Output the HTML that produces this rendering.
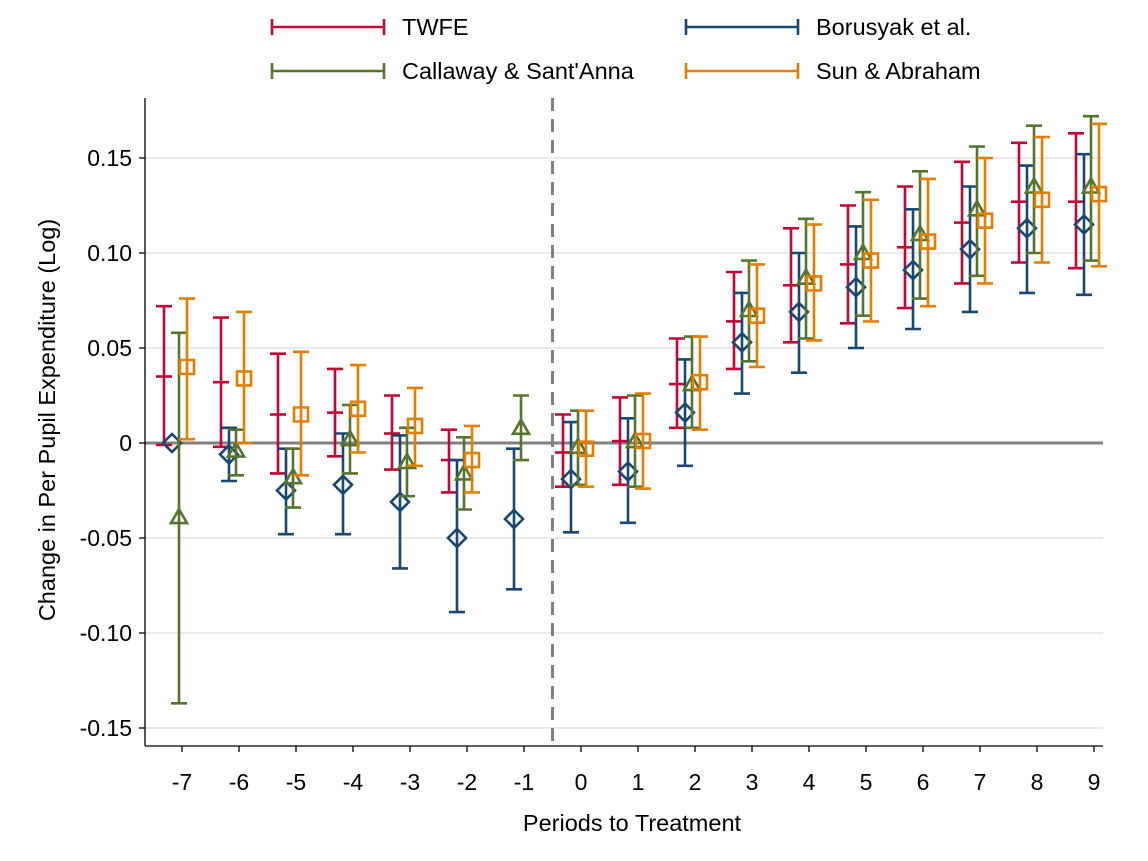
<!DOCTYPE html>
<html><head><meta charset="utf-8"><style>
html,body{margin:0;padding:0;background:#fff;}
svg{display:block;font-family:"Liberation Sans",Arial,sans-serif;}
</style></head><body>
<svg id="chart" width="1148" height="861" viewBox="0 0 1148 861" xmlns="http://www.w3.org/2000/svg">
<g id="grid"></g>
<g id="axes"></g>
<g id="marks"></g>
<g id="legend"></g>
<text x="0" y="0" transform="translate(55,420) rotate(-90)" text-anchor="middle" font-size="23.5" fill="#000">Change in Per Pupil Expenditure (Log)</text>
<text x="632" y="831" text-anchor="middle" font-size="23.5" fill="#000">Periods to Treatment</text>
</svg>
<script>
const periods = [-7,-6,-5,-4,-3,-2,-1,0,1,2,3,4,5,6,7,8,9];
const yTicks = [0.15,0.10,0.05,0,-0.05,-0.10,-0.15];
const yTickLabels = ["0.15","0.10","0.05","0","-0.05","-0.10","-0.15"];
// null = not estimated
const twfeEst = [0.035,0.032,0.015,0.016,0.005,-0.009,null,-0.005,0.001,0.031,0.064,0.083,0.094,0.103,0.116,0.127,0.127];
const twfeLo  = [-0.001,-0.002,-0.016,-0.007,-0.014,-0.026,null,-0.023,-0.022,0.008,0.039,0.053,0.063,0.071,0.084,0.095,0.092];
const twfeHi  = [0.072,0.066,0.047,0.039,0.025,0.007,null,0.015,0.024,0.055,0.090,0.113,0.125,0.135,0.148,0.158,0.163];
const borEst = [0.000,-0.006,-0.025,-0.022,-0.031,-0.050,-0.040,-0.019,-0.015,0.016,0.053,0.069,0.082,0.091,0.102,0.113,0.115];
const borLo  = [0.000,-0.020,-0.048,-0.048,-0.066,-0.089,-0.077,-0.047,-0.042,-0.012,0.026,0.037,0.050,0.060,0.069,0.079,0.078];
const borHi  = [0.000,0.008,-0.003,0.005,0.004,-0.009,-0.003,0.011,0.013,0.044,0.079,0.100,0.114,0.123,0.135,0.146,0.152];
const csEst = [-0.039,-0.004,-0.018,0.002,-0.010,-0.016,0.008,-0.002,0.001,0.031,0.070,0.087,0.100,0.110,0.123,0.135,0.135];
const csLo  = [-0.137,-0.017,-0.034,-0.016,-0.028,-0.035,-0.009,-0.022,-0.023,0.008,0.043,0.055,0.067,0.076,0.088,0.100,0.096];
const csHi  = [0.058,0.007,-0.003,0.020,0.008,0.003,0.025,0.017,0.025,0.056,0.096,0.118,0.132,0.143,0.156,0.167,0.172];
const saEst = [0.040,0.034,0.015,0.018,0.009,-0.009,null,-0.003,0.001,0.032,0.067,0.084,0.096,0.106,0.117,0.128,0.131];
const saLo  = [0.002,0.000,-0.017,-0.005,-0.012,-0.026,null,-0.023,-0.024,0.007,0.040,0.054,0.064,0.072,0.084,0.095,0.093];
const saHi  = [0.076,0.069,0.048,0.041,0.029,0.009,null,0.017,0.026,0.056,0.094,0.115,0.128,0.139,0.150,0.161,0.168];

const NS="http://www.w3.org/2000/svg";
const X0=145,X1=1103,Y0=98,Y1=746;
const xs=p=>182+(p+7)*57;
const ys=v=>443-v*1900;
function mk(tag,attrs,parent){const e=document.createElementNS(NS,tag);for(const k in attrs)e.setAttribute(k,attrs[k]);parent.appendChild(e);return e;}
const grid=document.getElementById('grid'),axes=document.getElementById('axes'),marks=document.getElementById('marks'),legend=document.getElementById('legend');

yTicks.forEach((t,i)=>{
  if(t!==0){const g=mk('line',{x1:X0,x2:X1,y1:ys(t),y2:ys(t),stroke:'#e3e3e3','stroke-width':1.5},grid);
  
  }
  const tk=mk('line',{x1:X0-6,x2:X0,y1:ys(t),y2:ys(t),stroke:'#000','stroke-width':1.3},axes);
  
  
  const lb=mk('text',{x:X0-13,y:ys(t)+8,'text-anchor':'end','font-size':23},axes);
  lb.textContent=yTickLabels[i];
  
  
});
const zl=mk('line',{x1:X0,x2:X1,y1:ys(0),y2:ys(0),stroke:'#808080','stroke-width':3},grid);


const dl=mk('line',{x1:xs(-0.5),x2:xs(-0.5),y1:Y0,y2:Y1,stroke:'#808080','stroke-width':3,'stroke-dasharray':'13,8'},grid);


const ya=mk('line',{x1:X0,x2:X0,y1:Y0,y2:Y1,stroke:'#000','stroke-width':1.3},axes);


const xa=mk('line',{x1:X0,x2:X1,y1:Y1,y2:Y1,stroke:'#000','stroke-width':1.3},axes);


periods.forEach(p=>{
  const tk=mk('line',{x1:xs(p),x2:xs(p),y1:Y1,y2:Y1+6,stroke:'#000','stroke-width':1.3},axes);
  
  
  const lb=mk('text',{x:xs(p),y:Y1+44,'text-anchor':'middle','font-size':23},axes);
  lb.textContent=String(p);
  
  
});

const series=[
 {name:'twfe',est:twfeEst,lo:twfeLo,hi:twfeHi,col:'#c10534',off:-18,m:'tick'},
 {name:'borusyak',est:borEst,lo:borLo,hi:borHi,col:'#1a476f',off:-10,m:'diamond'},
 {name:'callaway',est:csEst,lo:csLo,hi:csHi,col:'#55752f',off:-3,m:'triangle'},
 {name:'sun-abraham',est:saEst,lo:saLo,hi:saHi,col:'#e37e00',off:5,m:'square'}];
series.forEach(s=>{
  const g=mk('g',{},marks);
  
  
  periods.forEach((p,i)=>{
    if(s.est[i]===null)return;
    const x=xs(p)+s.off,yl=ys(s.lo[i]),yh=ys(s.hi[i]),y=ys(s.est[i]);
    const st={stroke:s.col,'stroke-width':2.6,fill:'none'};
    if(s.hi[i]!==s.lo[i]){
      const eb=mk('path',Object.assign({d:`M${x},${yl}V${yh}M${x-8},${yl}H${x+8}M${x-8},${yh}H${x+8}`},st),g);
      
      
    }
    let d;
    if(s.m==='tick')d=`M${x-8},${y}H${x+8}`;
    else if(s.m==='diamond')d=`M${x},${y-9}L${x+9},${y}L${x},${y+9}L${x-9},${y}Z`;
    else if(s.m==='triangle')d=`M${x},${y-8}L${x+8},${y+6}L${x-8},${y+6}Z`;
    else d=`M${x-7},${y-7}H${x+7}V${y+7}H${x-7}Z`;
    const pt=mk('path',Object.assign({d:d},st),g);
    
    
  });
});

const leg=[['TWFE','#c10534',272,27],['Borusyak et al.','#1a476f',686,27],["Callaway & Sant'Anna",'#55752f',272,71],['Sun & Abraham','#e37e00',686,71]];
leg.forEach(l=>{
  const g=mk('g',{},legend);
  
  
  mk('path',{d:`M${l[2]},${l[3]-8}V${l[3]+8}M${l[2]},${l[3]}H${l[2]+112}M${l[2]+112},${l[3]-8}V${l[3]+8}`,stroke:l[1],'stroke-width':2.6,fill:'none'},g);
  const t=mk('text',{x:l[2]+130,y:l[3]+8,'font-size':23.5},g);
  t.textContent=l[0];
});
</script>
</body></html>
